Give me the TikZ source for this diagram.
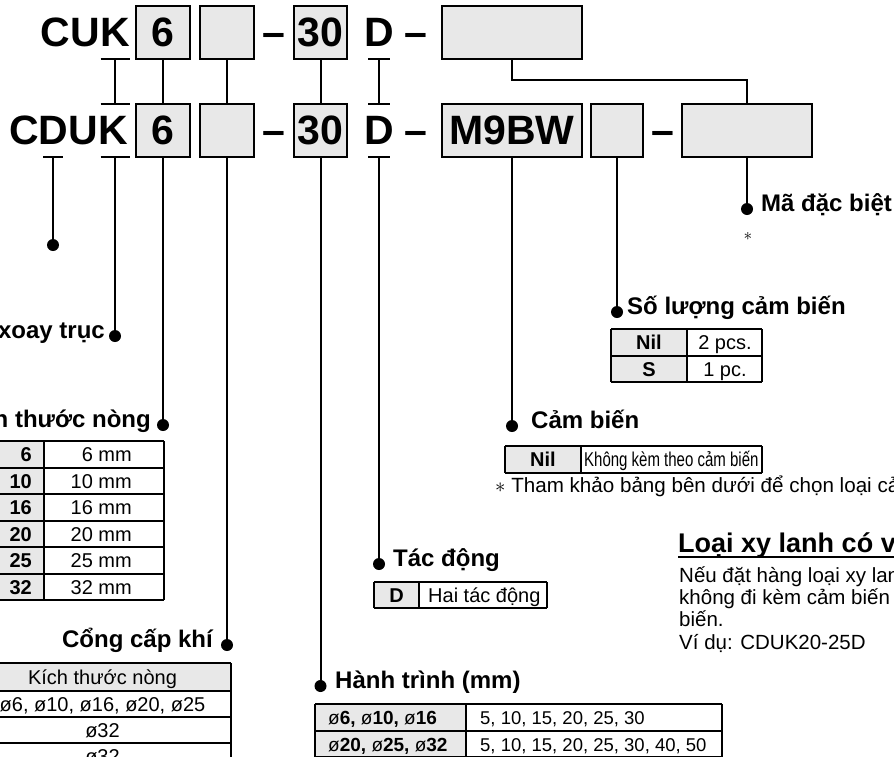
\documentclass[tikz,border=0pt]{standalone}
\usepackage{fontspec}
\setmainfont{Liberation Sans}
\usepackage{graphicx}
\definecolor{boxgray}{HTML}{E8E8E8}
\newcommand\codefont{\bfseries\fontsize{41}{41}\selectfont}
\newcommand\lblfont{\bfseries\fontsize{24}{26}\selectfont}
\newcommand\cellfont{\fontsize{20}{22}\selectfont}
\newcommand\cellbfont{\bfseries\fontsize{20}{22}\selectfont}
\newcommand\strokefont{\fontsize{18.5}{20}\selectfont}
\newcommand\strokebfont{\bfseries\fontsize{19}{20}\selectfont}
\newcommand\parfont{\fontsize{20.5}{22}\selectfont}
\newcommand\dia{{\mdseries ø}}
\begin{document}
\begin{tikzpicture}[x=1pt,y=-1pt,
  codebox/.style={draw, line width=2pt, fill=boxgray, inner sep=0pt, minimum height=53pt, font=\codefont},
  codetext/.style={inner sep=0pt, font=\codefont},
  conn/.style={line width=2pt},
  dotm/.style={circle, fill=black, inner sep=0pt, minimum size=12pt},
  lbl/.style={font=\lblfont, inner sep=0pt},
  cell/.style={font=\cellfont, inner sep=0pt},
  cellb/.style={font=\cellbfont, inner sep=0pt},
  tline/.style={line width=1.2pt},
  ttop/.style={line width=2pt},
  shadecell/.style={fill=boxgray},
]
\useasboundingbox (0,0) rectangle (894,756);
\clip (0,0) rectangle (894,756);

% ---------- code row 1 ----------
\node[codetext, anchor=base east] (cuk) at (130,46) {CUK};
\node[codebox, minimum width=54pt] (b1six) at (163,32.5) {6};
\node[codebox, minimum width=54pt] (b1emp) at (227,32.5) {};
\node[codetext, anchor=base] (h1a) at (274,46) {–};
\node[codebox, minimum width=53pt] (b1thr) at (320.5,32.5) {30};
\node[codetext, anchor=base] (d1) at (379,46) {D};
\node[codetext, anchor=base] (h1b) at (416,46) {–};
\node[codebox, minimum width=140pt] (b1sw) at (512,32.5) {};

% ---------- code row 2 ----------
\node[codetext, anchor=base east] (cduk) at (128,144) {CDUK};
\node[codebox, minimum width=54pt] (b2six) at (163,130.5) {6};
\node[codebox, minimum width=54pt] (b2emp) at (227,130.5) {};
\node[codetext, anchor=base] (h2a) at (274,144) {–};
\node[codebox, minimum width=53pt] (b2thr) at (320.5,130.5) {30};
\node[codetext, anchor=base] (d2) at (379,144) {D};
\node[codetext, anchor=base] (h2b) at (416,144) {–};
\node[codebox, minimum width=140pt] (b2m9) at (512,130.5) {M9BW};
\node[codebox, minimum width=52pt] (b2sq) at (617,130.5) {};
\node[codetext, anchor=base] (h2c) at (663,144) {–};
\node[codebox, minimum width=130pt] (b2sp) at (747,130.5) {};

% ---------- connectors between rows ----------
\coordinate (kA) at (115,59);  \coordinate (kB) at (115,104); \coordinate (kC) at (115,157);
\coordinate (dA) at (379,59);  \coordinate (dB) at (379,104); \coordinate (dC) at (379,157);
\coordinate (cC) at (53,157);
\foreach \c/\w in {kA/14.5, kB/14.5, kC/14.5, dA/11, dB/11, dC/11, cC/10}
  \draw[conn] ([xshift=-\w pt]\c) -- ([xshift=\w pt]\c);
\draw[conn] (kA) -- (kB);
\draw[conn] (dA) -- (dB);
\draw[conn] (b1six) -- (b2six);
\draw[conn] (b1emp) -- (b2emp);
\draw[conn] (b1thr) -- (b2thr);
\draw[conn] (b1sw.south) -- ++(0,20) -| (b2sp.north);

% ---------- dots ----------
\node[dotm] (pC) at (53,245) {};
\node[dotm] (pK) at (115,336) {};
\node[dotm] (pBore) at (163,425) {};
\node[dotm] (pPort) at (227,645) {};
\node[dotm] (pStroke) at (320.5,686) {};
\node[dotm] (pAct) at (379,564) {};
\node[dotm] (pSw) at (512,426) {};
\node[dotm] (pNum) at (617,312) {};
\node[dotm] (pSp) at (747,209) {};

\draw[conn] (cC) -- (pC.center);
\draw[conn] (kC) -- (pK.center);
\draw[conn] (b2six) -- (pBore.center);
\draw[conn] (b2emp) -- (pPort.center);
\draw[conn] (b2thr) -- (pStroke.center);
\draw[conn] (dC) -- (pAct.center);
\draw[conn] (b2m9) -- (pSw.center);
\draw[conn] (b2sq) -- (pNum.center);
\draw[conn] (b2sp) -- (pSp.center);

% ---------- labels ----------
\node[lbl, anchor=mid east] (lK) at (105,336) {xoay trục};
\node[lbl, anchor=mid east] (lBore) at (151,425) {Kích thước nòng};
\node[lbl, anchor=mid east] (lPort) at (213,645) {Cổng cấp khí};
\node[lbl, anchor=mid west] (lStroke) at (335,686) {Hành trình (mm)};
\node[lbl, anchor=mid west] (lAct) at (393,564) {Tác động};
\node[lbl, anchor=mid west] (lSw) at (531,426) {Cảm biến};
\node[lbl, anchor=mid west] (lNum) at (627,312) {Số lượng cảm biến};
\node[lbl, anchor=mid west] (lSp) at (761,209) {Mã đặc biệt};
\node[inner sep=0pt, font=\fontsize{16}{16}\selectfont] (ast) at (748,236) {$\ast$};

% ---------- table: bore size ----------
\fill[shadecell] (-10,441) rectangle (44,600);
\foreach \y in {468,494,521,547,574,600} \draw[tline] (-10,\y) -- (164,\y);
\draw[ttop] (-10,441) -- (164,441);
\draw[tline] (44,441) -- (44,600);
\draw[tline] (164,441) -- (164,600);
\foreach \v/\y in {6/454.5, 10/481, 16/507.5, 20/534, 25/560.5, 32/587} {
  \node[cellb, anchor=base east] (ta\v) at (32,\y+7) {\v};
  \node[cell, anchor=base east] (tb\v) at (132,\y+7) {\v{} mm};
}

% ---------- table: port ----------
\fill[shadecell] (-30,663) rectangle (231,691);
\foreach \y in {691,717,743,769} \draw[tline] (-30,\y) -- (231,\y);
\draw[ttop] (-30,663) -- (231,663);
\draw[tline] (231,663) -- (231,769);
\node[cell, anchor=base] (pt0) at (102.5,684) {Kích thước nòng};
\node[cell, anchor=base] (pt1) at (102.5,711) {ø6, ø10, ø16, ø20, ø25};
\node[cell, anchor=base] (pt2) at (102.5,737) {ø32};
\node[cell, anchor=base] (pt3) at (102.5,763) {ø32};

% ---------- table: stroke ----------
\fill[shadecell] (315,704) rectangle (466,757);
\draw[ttop] (315,704) -- (722,704);
\draw[tline] (315,731) -- (722,731);
\draw[tline] (315,757) -- (722,757);
\foreach \x in {315,466,722} \draw[tline] (\x,704) -- (\x,757);
\node[inner sep=0pt, font=\strokebfont, anchor=base west] (st1) at (328,724.5) {\dia6, \dia10, \dia16};
\node[inner sep=0pt, font=\strokebfont, anchor=base west] (st2) at (328,751) {\dia20, \dia25, \dia32};
\node[inner sep=0pt, font=\strokefont, anchor=base west] (sv1) at (480,724.5) {5, 10, 15, 20, 25, 30};
\node[inner sep=0pt, font=\strokefont, anchor=base west] (sv2) at (480,751) {5, 10, 15, 20, 25, 30, 40, 50};

% ---------- table: action ----------
\fill[shadecell] (374,582) rectangle (419,608);
\draw[ttop] (374,582) -- (547,582);
\draw[tline] (374,608) -- (547,608);
\foreach \x in {374,419,547} \draw[tline] (\x,582) -- (\x,608);
\node[cellb, anchor=base] (ac1) at (396.5,602) {D};
\node[cell, anchor=base west] (ac2) at (428,602) {Hai tác động};

% ---------- table: switch ----------
\fill[shadecell] (505,446) rectangle (581,473);
\draw[ttop] (505,446) -- (762,446);
\draw[tline] (505,473) -- (762,473);
\foreach \x in {505,581,762} \draw[tline] (\x,446) -- (\x,473);
\node[cellb, anchor=base] (sw1) at (543,466.5) {Nil};
\node[cell, anchor=base west] (sw2) at (584,466.5) {\scalebox{0.75}[1]{Không kèm theo cảm biến}};

% ---------- table: number of switches ----------
\fill[shadecell] (611,329) rectangle (687,382);
\draw[ttop] (611,329) -- (762,329);
\draw[tline] (611,356) -- (762,356);
\draw[tline] (611,382) -- (762,382);
\foreach \x in {611,687,762} \draw[tline] (\x,329) -- (\x,382);
\node[cellb, anchor=base] (nm1) at (649,349.5) {Nil};
\node[cellb, anchor=base] (nm2) at (649,376) {S};
\node[cell, anchor=base] (nv1) at (725,349.5) {2 pcs.};
\node[cell, anchor=base] (nv2) at (725,376) {1 pc.};

% ---------- footnote ----------
\node[inner sep=0pt, font=\fontsize{20.6}{22}\selectfont, anchor=base west] (fn) at (495,492) {$\ast$ Tham khảo bảng bên dưới để chọn loại cảm biến.};

% ---------- note block ----------
\node[inner sep=0pt, font=\bfseries\fontsize{27}{30}\selectfont, anchor=base west] (ttl) at (678,552) {Loại xy lanh có vòng};
\draw[line width=2pt] (ttl.base west) ++(0,4.5) -- (900,556.5);
\node[inner sep=0pt, font=\parfont, anchor=base west] (n1) at (679,582) {Nếu đặt hàng loại xy lanh};
\node[inner sep=0pt, font=\parfont, anchor=base west] (n2) at (679,604) {không đi kèm cảm biến};
\node[inner sep=0pt, font=\parfont, anchor=base west] (n3) at (679,626) {biến.};
\node[inner sep=0pt, font=\parfont, anchor=base west] (n4) at (679,649) {Ví dụ: CDUK20-25D};
\end{tikzpicture}
\end{document}
